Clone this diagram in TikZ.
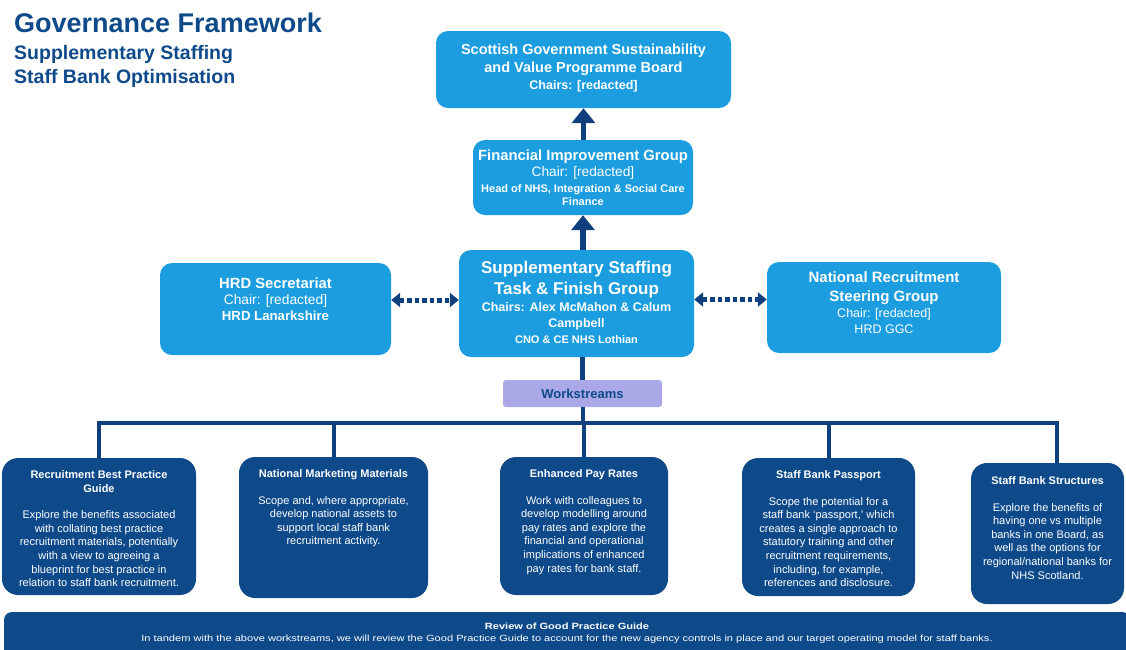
\documentclass[tikz,border=0pt]{standalone}
\usepackage{fontspec}
\setmainfont{Liberation Sans}
\usepackage{xcolor}
\usetikzlibrary{arrows.meta,positioning,calc}
\definecolor{skyblue}{HTML}{1B9DDF}
\definecolor{navy}{HTML}{0E4A8A}
\definecolor{linkblue}{HTML}{0F3F7C}
\definecolor{lavender}{HTML}{AAA8E6}
\newcommand{\fsz}[2]{\fontsize{#1}{#2}\selectfont}
\newcommand{\boxtxt}[4]{\parbox[c][#2pt][t]{#1pt}{\centering\vspace*{#3pt}#4}}

\begin{document}
\begin{tikzpicture}[x=1pt,y=-1pt,
  lbox/.style={fill=skyblue,rounded corners=12pt,inner sep=0pt,text=white},
  dbox/.style={fill=navy,rounded corners=16pt,inner sep=0pt,text=white},
  uparrow/.style={draw=linkblue,line width=5.5pt,-{Triangle[width=23pt,length=15pt]}},
  link/.style={draw=linkblue,line width=5pt,dash pattern=on 4.5pt off 3pt,
    {Triangle[width=14pt,length=9pt]}-{Triangle[width=14pt,length=9pt]}},
  bus/.style={draw=linkblue,line width=4pt}]
\useasboundingbox (0,0) rectangle (1126,649);

% heading
\node[anchor=base west,inner sep=0pt,text=navy] (title) at (14,32) {\fsz{27}{30}\bfseries Governance Framework};
\node[anchor=base west,inner sep=0pt,text=navy] (sub1) at (14,59) {\fsz{19.5}{22}\bfseries Supplementary Staffing};
\node[anchor=base west,inner sep=0pt,text=navy] (sub2) at (14,83) {\fsz{19.5}{22}\bfseries Staff Bank Optimisation};

% boards and groups
\node[lbox] (sg) at (583.5,69.5) {\boxtxt{295}{77}{13}{\bfseries\fsz{14.5}{18}Scottish Government Sustainability\\
  and Value Programme Board\\ \fsz{12.5}{17}Chairs: [redacted]}};
\node[lbox] (fig) at (583,177.5) {\boxtxt{220}{75}{10}{\fsz{14.8}{16}\textbf{Financial Improvement Group}\\
  \fsz{13.7}{16}Chair: [redacted]\\ \bfseries\fsz{11}{16}Head of NHS, Integration \& Social Care\\ \fsz{11}{13}Finance}};
\node[lbox] (sst) at (576.5,303.5) {\boxtxt{235}{107}{11}{\bfseries\fsz{17}{21}Supplementary Staffing\\
  Task \& Finish Group\\ \fsz{12.5}{17}Chairs: Alex McMahon \& Calum\\ \fsz{12.5}{16}Campbell\\ \fsz{11}{16}CNO \& CE NHS Lothian}};
\node[lbox] (hrd) at (275.5,309) {\boxtxt{231}{92}{15}{\fsz{14.8}{16}\textbf{HRD Secretariat}\\
  \fsz{13.8}{16}Chair: [redacted]\\ \fsz{13.2}{16}\textbf{HRD Lanarkshire}}};
\node[lbox] (nrs) at (884,307.5) {\boxtxt{234}{91}{10}{\fsz{15}{19}\textbf{National Recruitment}\\
  \textbf{Steering Group}\\ \fsz{12.5}{16}Chair: [redacted]\\ HRD GGC}};

\node[fill=lavender,rounded corners=3pt,minimum width=159pt,minimum height=27pt,inner sep=0pt,text=navy]
  (work) at (582.5,393.5) {\fsz{13}{14}\bfseries Workstreams};

% workstreams
\node[dbox] (ws1) at (99,526.5) {\boxtxt{194}{137}{13}{\fsz{11}{13.6}\textbf{Recruitment Best Practice\\ Guide}\\[12.5pt]
  Explore the benefits associated\\ with collating best practice\\ recruitment materials, potentially\\
  with a view to agreeing a\\ blueprint for best practice in\\ relation to staff bank recruitment.}};
\node[dbox] (ws2) at (333.5,527.5) {\boxtxt{189}{141}{13}{\fsz{11}{13.6}\textbf{National Marketing Materials}\\[12.5pt]
  Scope and, where appropriate,\\ develop national assets to\\ support local staff bank\\ recruitment activity.}};
\node[dbox] (ws3) at (584,526) {\boxtxt{168}{138}{13}{\fsz{11}{13.6}\textbf{Enhanced Pay Rates}\\[12.5pt]
  Work with colleagues to\\ develop modelling around\\ pay rates and explore the\\ financial and operational\\
  implications of enhanced\\ pay rates for bank staff.}};
\node[dbox] (ws4) at (828.5,527) {\boxtxt{173}{138}{13}{\fsz{11}{13.6}\textbf{Staff Bank Passport}\\[12.5pt]
  Scope the potential for a\\ staff bank `passport,' which\\ creates a single approach to\\ statutory training and other\\
  recruitment requirements,\\ including, for example,\\ references and disclosure.}};
\node[dbox] (ws5) at (1047.5,533.5) {\boxtxt{153}{141}{14}{\fsz{11}{13.6}\textbf{Staff Bank Structures}\\[12.5pt]
  Explore the benefits of\\ having one vs multiple\\ banks in one Board, as\\ well as the options for\\
  regional/national banks for\\ NHS Scotland.}};

\node[fill=navy,rounded corners=8pt,inner sep=0pt,text=white] (rev) at (567,637)
  {\boxtxt{1126}{50}{11}{\addfontfeatures{FakeStretch=1.23}\fsz{9}{12}\textbf{Review of Good Practice Guide}\\ In tandem with the above workstreams,
  we will review the Good Practice Guide to account for the new agency controls in place and our target operating model for staff banks.}};

% connectors
\draw[uparrow] (sg.south |- fig.north) -- (sg.south);
\draw[uparrow] (fig.south |- sst.north) -- (fig.south);
\coordinate (l1) at ([yshift=9pt]hrd.east);
\coordinate (l2) at ([yshift=4pt]sst.east);
\draw[link] (l1) -- (l1 -| sst.west);
\draw[link] (l2) -- (l2 -| nrs.west);
\draw[bus,line width=5pt] (work.north |- sst.south) -- (work.north);
\coordinate (busy) at (0,423);
\coordinate (drop5) at ([xshift=9pt]ws5.north);
\draw[bus] (work.south) -- (work.south |- busy);
\draw[bus] (ws1.north) -- (ws1.north |- busy) -- (drop5 |- busy) -- (drop5);
\foreach \n in {2,3,4}
  \draw[bus] (ws\n.north) -- (ws\n.north |- busy);
\end{tikzpicture}
\end{document}
